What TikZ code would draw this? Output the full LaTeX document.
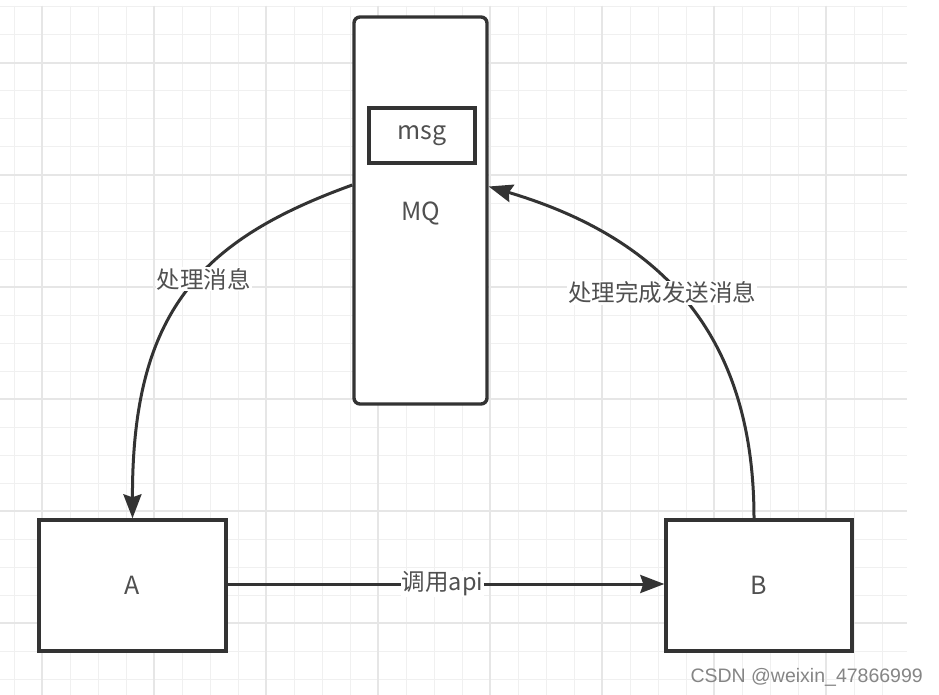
\documentclass[tikz,border=0pt]{standalone}
\usepackage{fontspec}
\setmainfont{Noto Sans CJK SC}
\newfontfamily\wmfont{Liberation Sans}
\usetikzlibrary{arrows.meta}
\definecolor{gridminor}{HTML}{F0F0F0}
\definecolor{gridmajor}{HTML}{E6E6E6}
\definecolor{linec}{HTML}{333333}
\definecolor{textc}{HTML}{505050}
\tikzset{
  box/.style={draw=linec, line width=3.4pt, fill=white, text=textc, inner sep=0pt,
              font=\fontsize{25}{28}\selectfont},
  conn/.style={draw=linec, line width=3pt,
               -{Stealth[length=24pt,width=18pt,inset=3pt]}},
  lbl/.style={fill=white, text=textc, inner sep=1pt, font=\fontsize{23.5}{28}\selectfont},
}
\begin{document}
\begin{tikzpicture}[x=1pt,y=-1pt]
\fill[white] (0,0) rectangle (939,695);
\useasboundingbox (0,0) rectangle (939,695);
% grid
\begin{scope}
\clip (0,6) rectangle (907,695);
\foreach \k in {0,...,32} {
  \draw[gridminor, line width=1pt] ({14+28*\k},6) -- ({14+28*\k},695);
}
\foreach \k in {0,...,24} {
  \draw[gridminor, line width=1pt] (0,{7+28*\k}) -- (907,{7+28*\k});
}
\foreach \k in {0,...,8} {
  \draw[gridmajor, line width=1.4pt] ({42+112*\k},6) -- ({42+112*\k},695);
}
\foreach \k in {0,...,6} {
  \draw[gridmajor, line width=1.4pt] (0,{63+112*\k}) -- (907,{63+112*\k});
}
\end{scope}
% nodes
\node[box, rounded corners=6pt, minimum width=133pt, minimum height=387pt] (MQ) at (420.5,210.5) {};
\node[text=textc, font=\fontsize{25}{28}\selectfont] (MQt) at (421,213) {MQ};
\node[box, minimum width=106pt, minimum height=55pt] (msg) at (422,135.5) {msg};
\node[box, minimum width=187pt, minimum height=131pt] (A) at (132.5,585.5) {A};
\node[box, minimum width=186pt, minimum height=131pt] (B) at (759,585.5) {B};
% connectors
\draw[conn] ([yshift=25.5pt]MQ.west) .. controls (200,240) and (132,312) .. (A.north);
\draw[conn] ([xshift=-5pt]B.north) .. controls (754,335) and (662,238) .. ([yshift=24pt]MQ.east);
\draw[conn] (A.east |- 0,584) -- (B.west |- 0,584);
% labels
\node[lbl] (l1) at (203.5,279) {处理消息};
\node[lbl] (l2) at (662,293) {处理完成发送消息};
\node[lbl] (l3) at (442.5,584) {调用api};
% watermark
\node[anchor=east, text=black!48, font=\wmfont\fontsize{19.5}{22}\selectfont, inner sep=0pt] (wm) at (923,677) {CSDN @weixin\_47866999};
\end{tikzpicture}
\end{document}
